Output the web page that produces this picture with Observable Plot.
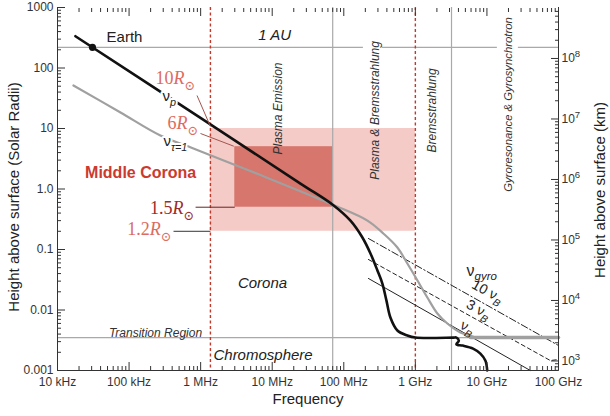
<!DOCTYPE html>
<html><head><meta charset="utf-8">
<script src="https://cdn.jsdelivr.net/npm/d3@7"></script>
<script src="https://cdn.jsdelivr.net/npm/@observablehq/plot@0.6"></script>
<style>html,body{margin:0;padding:0;background:#fff}#chart svg{display:block}</style>
</head><body><div id="chart"></div>
<script>
// ---------------- data ----------------
const RSUN_KM = 6.96e5;
const AU = 220;                 // 1 AU (height, solar radii)
const TRANSITION = 0.0035;      // transition region height

const xMajor = [1e4, 1e5, 1e6, 1e7, 1e8, 1e9, 1e10, 1e11];
const xTickLabels = ["10 kHz", "100 kHz", "1 MHz", "10 MHz", "100 MHz", "1 GHz", "10 GHz", "100 GHz"];
const yMajor = [1e-3, 1e-2, 1e-1, 1, 10, 100, 1000];
const yTickLabels = ["0.001", "0.01", "0.1", "1.0", "10", "100", "1000"];
const kmMajor = [1e3, 1e4, 1e5, 1e6, 1e7, 1e8];
const kmTickLabels = ["10^{3}", "10^{4}", "10^{5}", "10^{6}", "10^{7}", "10^{8}"];

// plasma frequency curve (nu_p)
const plasmaFreq = [1.78e4, 9.95e5, 2.48e7, 7.0e7, 1.24e8, 1.82e8, 2.36e8, 2.95e8, 3.46e8, 3.94e8, 4.48e8, 5.61e8, 7.73e8, 1.0e9, 3.4e9, 3.75e9, 4.05e9, 3.75e9, 4.6e9, 6.4e9, 8.1e9, 9.5e9, 1.01e10];
const plasmaHeight = [335, 15.0, 1.23, 0.55, 0.30, 0.158, 0.086, 0.045, 0.0274, 0.0144, 0.0075, 0.00458, 0.00379, 0.0035, 0.0035, 0.0035, 0.0031, 0.0027, 0.00258, 0.0023, 0.0019, 0.00146, 0.001];

// optical depth unity curve (nu_tau=1)
const tauFreq = [1.67e4, 7.59e4, 2.74e5, 7.93e5, 6.86e6, 7.0e7, 2.14e8, 3.57e8, 5.61e8, 7.73e8, 1.07e9, 1.47e9, 2.03e9, 2.80e9, 4.25e9, 5.86e9, 6.9e9];
const tauHeight = [51.4, 18.4, 7.66, 4.67, 1.70, 0.55, 0.30, 0.184, 0.108, 0.0587, 0.0308, 0.0161, 0.00875, 0.00598, 0.00425, 0.0038, 0.0035];
const tauFlatFreq = [5.9e9, 1e11];
const tauFlatHeight = [0.0035, 0.0035];

// gyro harmonics
const gyro10Freq = [2.21e8, 1e11];      const gyro10Height = [0.152, 0.00259];
const gyro3Freq = [2.21e8, 7.7e10, 1e11]; const gyro3Height = [0.0684, 0.00146, 0.00152];
const gyro1Freq = [2.21e8, 4.04e10];     const gyro1Height = [0.0332, 0.001];

// Earth
const earthFreq = 3.08e4, earthHeight = AU;

// regions (boxes)
const boxKind = ["outer", "inner"];
const boxFreqLo = [1.37e6, 3.0e6];
const boxFreqHi = [1.0e9, 7.0e7];
const boxHeightLo = [0.2, 0.5];
const boxHeightHi = [10, 5];

const redDashedFreqs = [1.37e6, 1.0e9];
const grayVertFreqs = [7.0e7, 3.2e9];
const auSegments = [[1e4, 1.88e8], [3.46e8, 1.4e10], [2.75e10, 1e11]];

// leader lines for R_sun labels
const leaderKind = ["red", "red", "dark", "black"];
const leaderF1 = [8.9e5, 9.95e5, 8.5e5, 4.18e5];
const leaderH1 = [35.1, 8.27, 0.5, 0.2];
const leaderF2 = [1.37e6, 2.9e6, 3.0e6, 1.37e6];
const leaderH2 = [10.8, 5.1, 0.5, 0.2];

// R_sun labels
const rLabelText = ["10*{R}~{⊙}", "6*{R}~{⊙}", "1.5*{R}~{⊙}", "1.2*{R}~{⊙}"];
const rLabelKind = ["light", "light", "dark", "light"];
const rLabelFreq = [8.47e5, 9.33e5, 8.2e5, 3.92e5];
const rLabelHeight = [67, 12.1, 0.476, 0.214];

// ---------------- tables ----------------
const zip = (fs, hs) => fs.map((f, i) => ({f, h: hs[i]}));
const plasmaCurve = zip(plasmaFreq, plasmaHeight);
const tauCurve = zip(tauFreq, tauHeight);
const tauFlat = zip(tauFlatFreq, tauFlatHeight);
const gyro10 = zip(gyro10Freq, gyro10Height);
const gyro3 = zip(gyro3Freq, gyro3Height);
const gyro1 = zip(gyro1Freq, gyro1Height);
const boxes = boxKind.map((k, i) => ({kind: k, f1: boxFreqLo[i], f2: boxFreqHi[i], h1: boxHeightLo[i], h2: boxHeightHi[i]}));
const leaders = leaderKind.map((k, i) => ({kind: k, f1: leaderF1[i], h1: leaderH1[i], f2: leaderF2[i], h2: leaderH2[i]}));
const rLabels = rLabelText.map((t, i) => ({text: t, kind: rLabelKind[i], f: rLabelFreq[i], h: rLabelHeight[i]}));

const nuLabels = [{f: 2.93e5, h: 33.8, text: "ν_{p}"}, {f: 3.03e5, h: 6.1, text: "ν_{τ=1}"}];
const gyroLabel = [{f: 5.19e9, h: 0.045, text: "ν_{gyro}"}];
const gyroHarmLabels = [{f: 1.02e10, h: 0.0202, text: "10 ν_{B}"}, {f: 7.62e9, h: 0.0102, text: "3 ν_{B}"}, {f: 5.35e9, h: 0.00514, text: "ν_{B}"}];
const plainLabels = [{f: 8.63e4, h: 319, text: "Earth"}];
const italicLabels = [{f: 1.08e7, h: 344, text: "1 AU"}, {f: 7.31e6, h: 0.0274, text: "Corona"}];
const chromoLabel = [{f: 1.51e6, h: 0.00177, text: "Chromosphere"}];
const transLabel = [{f: 2.34e5, h: 0.0041, text: "Transition Region"}];
const middleLabel = [{f: 1.45e5, h: 1.87, text: "Middle Corona"}];
const rotLabels = [
  {f: 1.22e7, h: 21.4, text: "Plasma Emission"},
  {f: 2.77e8, h: 19.9, text: "Plasma & Bremsstrahlung"},
  {f: 1.74e9, h: 19.9, text: "Bremsstrahlung"}
];
const rotLabelGyro = [{f: 2.0e10, h: 24.9, text: "Gyroresonance & Gyrosynchrotron"}];

const minorOf = (majors, lo, hi) => majors.flatMap(m => [2, 3, 4, 5, 6, 7, 8, 9].map(k => k * m)).filter(v => v > lo && v < hi);
const xMinor = minorOf(xMajor, 1e4, 1e11);
const yMinor = minorOf(yMajor, 1e-3, 1e3);
const kmMinor = minorOf([1e2].concat(kmMajor), 1e-3 * RSUN_KM, 1e3 * RSUN_KM).map(k => k / RSUN_KM);
const kmMajorR = kmMajor.map(k => k / RSUN_KM);
const lookup = (vals, labels) => d => { const i = vals.findIndex(v => Math.abs(v - d) / v < 1e-9); return i >= 0 ? labels[i] : ""; };

const SANS = "'Liberation Sans', Arial, Helvetica, sans-serif";
const SERIF = "'Liberation Serif', 'DejaVu Serif', serif";
const GRAY = "#a9a9a9";
const AX = "#333";

const chart = Plot.plot({
  width: 610, height: 416,
  marginLeft: 57, marginRight: 52, marginTop: 7, marginBottom: 46,
  x: {type: "log", domain: [1e4, 1e11]},
  y: {type: "log", domain: [1e-3, 1e3]},
  style: {fontFamily: SANS, fontSize: "12px", color: "#222", background: "#fff", overflow: "visible"},
  marks: [
    Plot.rect(boxes, {x1: "f1", x2: "f2", y1: "h1", y2: "h2", fill: d => d.kind === "outer" ? "#f4cbc6" : "#d6766c"}),
    Plot.ruleY([TRANSITION], {stroke: GRAY, strokeWidth: 1.2}),
    Plot.ruleY(auSegments, {y: () => AU, x1: d => d[0], x2: d => d[1], stroke: GRAY, strokeWidth: 1.2}),
    Plot.ruleX(grayVertFreqs, {stroke: GRAY, strokeWidth: 1.2}),
    Plot.ruleX(redDashedFreqs, {stroke: "#c0392b", strokeWidth: 1.4, strokeDasharray: "3,2.5"}),
    Plot.line(gyro10, {x: "f", y: "h", stroke: "#222", strokeWidth: 1, strokeDasharray: "7,2.5,1.5,2.5"}),
    Plot.line(gyro3, {x: "f", y: "h", stroke: "#222", strokeWidth: 1, strokeDasharray: "4,3"}),
    Plot.line(gyro1, {x: "f", y: "h", stroke: "#222", strokeWidth: 1}),
    Plot.line(tauCurve, {x: "f", y: "h", stroke: "#a0a0a0", strokeWidth: 2.2, curve: "catmull-rom"}),
    Plot.line(tauFlat, {x: "f", y: "h", stroke: "#a0a0a0", strokeWidth: 3.5}),
    Plot.line(plasmaCurve, {x: "f", y: "h", stroke: "#111", strokeWidth: 2.6, curve: "catmull-rom"}),
    Plot.dot([{f: earthFreq, h: earthHeight}], {x: "f", y: "h", r: 3.6, fill: "#111"}),
    Plot.link(leaders, {x1: "f1", y1: "h1", x2: "f2", y2: "h2", strokeWidth: 1,
      stroke: d => d.kind === "red" ? "#a4554f" : d.kind === "dark" ? "#6b2424" : "#333"}),
    // text
    Plot.text(rLabels, {x: "f", y: "h", text: "text", textAnchor: "end", fontFamily: SERIF, fontSize: 18,
      fill: d => d.kind === "dark" ? "#9e2a2a" : "#dd6b5f"}),
    Plot.text(nuLabels, {x: "f", y: "h", text: "text", textAnchor: "start", fontSize: 15, fill: "#222", stroke: "white", strokeWidth: 4}),
    Plot.text(gyroLabel, {x: "f", y: "h", text: "text", textAnchor: "start", fontSize: 16, fill: "#222"}),
    Plot.text(gyroHarmLabels, {x: "f", y: "h", text: "text", rotate: 29, fontSize: 14, fill: "#222"}),
    Plot.text(plainLabels, {x: "f", y: "h", text: "text", fontSize: 15, fill: "#222"}),
    Plot.text(italicLabels, {x: "f", y: "h", text: "text", fontSize: 15, fontStyle: "italic", fill: "#222"}),
    Plot.text(chromoLabel, {x: "f", y: "h", text: "text", textAnchor: "start", fontSize: 15, fontStyle: "italic", fill: "#222"}),
    Plot.text(transLabel, {x: "f", y: "h", text: "text", fontSize: 12, fontStyle: "italic", fill: "#333"}),
    Plot.text(middleLabel, {x: "f", y: "h", text: "text", fontSize: 16, fontWeight: "bold", fill: "#cc3a2e"}),
    Plot.text(rotLabels, {x: "f", y: "h", text: "text", rotate: -90, fontSize: 12, fontStyle: "italic", fill: "#333"}),
    Plot.text(rotLabelGyro, {x: "f", y: "h", text: "text", rotate: -90, fontSize: 11.3, fontStyle: "italic", fill: "#333"}),
    // frame
    Plot.ruleX([1e4, 1e11], {stroke: AX, strokeWidth: 1}),
    Plot.ruleY([1e-3], {stroke: AX, strokeWidth: 1}),
    // axes: bottom & top ticks (inside)
    Plot.axisX(xMinor, {anchor: "bottom", tickSize: -4, fill: "none", label: null, stroke: AX}),
    Plot.axisX(xMajor, {anchor: "bottom", tickSize: -8, fill: "none", label: null, stroke: AX}),
    Plot.axisX(xMinor, {anchor: "top", tickSize: -4, fill: "none", label: null, stroke: AX}),
    Plot.axisX(xMajor, {anchor: "top", tickSize: -8, fill: "none", label: null, stroke: AX}),
    Plot.axisX(xMajor, {anchor: "bottom", tickSize: 0, tickPadding: 7, tickFormat: lookup(xMajor, xTickLabels), label: null, fontSize: 12, fill: "#333"}),
    // left
    Plot.axisY(yMinor, {anchor: "left", tickSize: -4, fill: "none", label: null, stroke: AX}),
    Plot.axisY(yMajor, {anchor: "left", tickSize: -8, fill: "none", label: null, stroke: AX}),
    Plot.axisY(yMajor, {anchor: "left", tickSize: 0, tickPadding: 4, tickFormat: lookup(yMajor, yTickLabels), label: null, fontSize: 12, fill: "#333"}),
    // right (km)
    Plot.axisY(kmMinor, {anchor: "right", tickSize: -4, fill: "none", label: null, stroke: AX}),
    Plot.axisY(kmMajorR, {anchor: "right", tickSize: -8, fill: "none", label: null, stroke: AX}),
    Plot.axisY(kmMajorR, {anchor: "right", tickSize: 0, tickPadding: 3, tickFormat: lookup(kmMajorR, kmTickLabels), label: null, fontSize: 12, fill: "#333"}),
    // axis titles
    Plot.text(["Frequency"], {frameAnchor: "bottom", dy: 33, fontSize: 15, fill: "#222"}),
    Plot.text(["Height above surface (Solar Radii)"], {frameAnchor: "left", textAnchor: "middle", dx: -43, dy: 8, rotate: -90, fontSize: 15, fill: "#222"}),
    Plot.text(["Height above surface (km)"], {frameAnchor: "right", textAnchor: "middle", dx: 42, dy: 1, rotate: -90, fontSize: 15, fill: "#222"})
  ]
});
document.getElementById("chart").appendChild(chart);

// rich text: _{} italic subscript, ~{} upright subscript, ^{} superscript, *{} italic
function richify(el) {
  const s = el.textContent;
  if (!/[_^*~]\{/.test(s)) return;
  const fs = parseFloat(getComputedStyle(el).fontSize) || 12;
  const re = /([_^*~])\{([^}]*)\}/g;
  const parts = []; let last = 0, m;
  while ((m = re.exec(s))) {
    if (m.index > last) parts.push({t: s.slice(last, m.index), k: ""});
    parts.push({t: m[2], k: m[1]}); last = re.lastIndex;
  }
  if (last < s.length) parts.push({t: s.slice(last), k: ""});
  while (el.firstChild) el.removeChild(el.firstChild);
  let cur = 0;
  for (const p of parts) {
    const ts = document.createElementNS("http://www.w3.org/2000/svg", "tspan");
    const target = (p.k === "_" || p.k === "~") ? fs * 0.3 : p.k === "^" ? -fs * 0.42 : 0;
    if (target !== cur) ts.setAttribute("dy", (target - cur).toFixed(2));
    cur = target;
    if (p.k === "_" || p.k === "~") ts.setAttribute("font-size", (fs * 0.72).toFixed(1));
    if (p.k === "^") ts.setAttribute("font-size", (fs * 0.8).toFixed(1));
    if (p.k === "_" || p.k === "*") ts.setAttribute("font-style", "italic");
    ts.textContent = p.t;
    el.appendChild(ts);
  }
}
chart.querySelectorAll("text").forEach(richify);
</script>
</body></html>
